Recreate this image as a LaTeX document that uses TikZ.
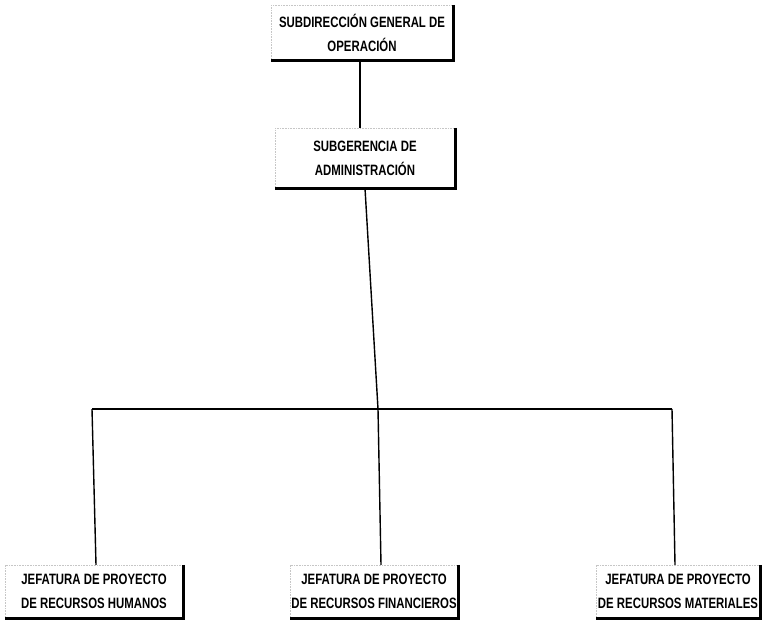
\documentclass[tikz,border=0pt]{standalone}
\usepackage{fontspec}
\setmainfont{Liberation Sans}[FakeStretch=0.76]
\begin{document}
\begin{tikzpicture}[x=1pt,y=-1pt,
  orgbox/.style={align=center, inner sep=0pt, font=\fontsize{15}{24}\selectfont\bfseries},
  conn/.style={line width=1.4pt, black},
  shade/.style={line width=2.8pt, black},
  faint/.style={line width=0.6pt, gray!45, densely dotted}]
\useasboundingbox (0,0) rectangle (762,624);
\node[orgbox, minimum width=182pt, minimum height=55pt] (b1) at (362,32.5) {SUBDIRECCIÓN GENERAL DE\\OPERACIÓN};
\node[orgbox, minimum width=180pt, minimum height=60pt] (b2) at (365,158) {SUBGERENCIA DE\\ADMINISTRACIÓN};
\node[orgbox, minimum width=178pt, minimum height=53pt] (hl) at (94,591.5) {JEFATURA DE PROYECTO\\DE RECURSOS HUMANOS};
\node[orgbox, minimum width=168pt, minimum height=53pt] (hm) at (374,591.5) {JEFATURA DE PROYECTO\\DE RECURSOS FINANCIEROS};
\node[orgbox, minimum width=164pt, minimum height=53pt] (hr) at (678,591.5) {JEFATURA DE PROYECTO\\DE RECURSOS MATERIALES};
\foreach \n in {b1,b2,hl,hm,hr}{
  \draw[faint] (\n.south west) -- (\n.north west) -- (\n.north east);
  \draw[shade] (\n.north east) -- (\n.south east) -- (\n.south west);
}
\coordinate (busl) at (92,409);
\coordinate (busm) at (378,409);
\coordinate (busr) at (672,409);
\draw[conn] (b1.south -| 360,0) -- (b2.north -| 360,0);
\draw[conn] (b2.south) -- (busm);
\draw[conn] (busl) -- (busr);
\draw[conn] (busl) -- (hl.north -| 96,0);
\draw[conn] (busm) -- (hm.north -| 381,0);
\draw[conn] (busr) -- (hr.north -| 675,0);
\end{tikzpicture}
\end{document}
